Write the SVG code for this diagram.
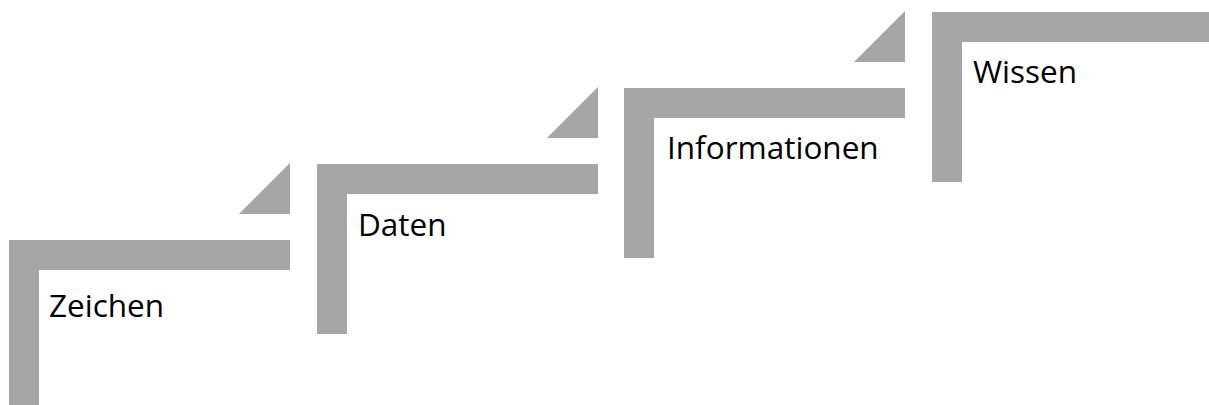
<svg xmlns="http://www.w3.org/2000/svg" width="1209" height="405" viewBox="0 0 1209 405">
  <style>
    .step { fill: #a6a6a6; }
    .riser { fill: #a6a6a6; }
    .label { font-family: "Open Sans", "Liberation Sans", sans-serif; font-size: 31.5px; fill: #000000; }
  </style>
  <defs>
    <!-- L-shaped stair bracket: 281 wide, 30 thick -->
    <path id="bracket" d="M0,0 H281 V30 H30 V170 H0 Z"/>
    <!-- small right-angled wedge above each bracket end -->
    <path id="wedge" d="M51,0 V51 H0 Z"/>
  </defs>
  <rect width="1209" height="405" fill="#ffffff"/>

  <g id="step-zeichen">
    <use href="#bracket" class="step" x="9" y="240"/>
    <use href="#wedge" class="riser" x="239" y="163"/>
    <text class="label" x="49" y="317">Zeichen</text>
  </g>

  <g id="step-daten">
    <use href="#bracket" class="step" x="317" y="164"/>
    <use href="#wedge" class="riser" x="547" y="87"/>
    <text class="label" x="358" y="236">Daten</text>
  </g>

  <g id="step-informationen">
    <use href="#bracket" class="step" x="624" y="88"/>
    <use href="#wedge" class="riser" x="854" y="11"/>
    <text class="label" x="667" y="159">Informationen</text>
  </g>

  <g id="step-wissen">
    <use href="#bracket" class="step" x="932" y="12"/>
    <text class="label" x="973" y="83">Wissen</text>
  </g>

  <g id="connectors"></g>
</svg>
